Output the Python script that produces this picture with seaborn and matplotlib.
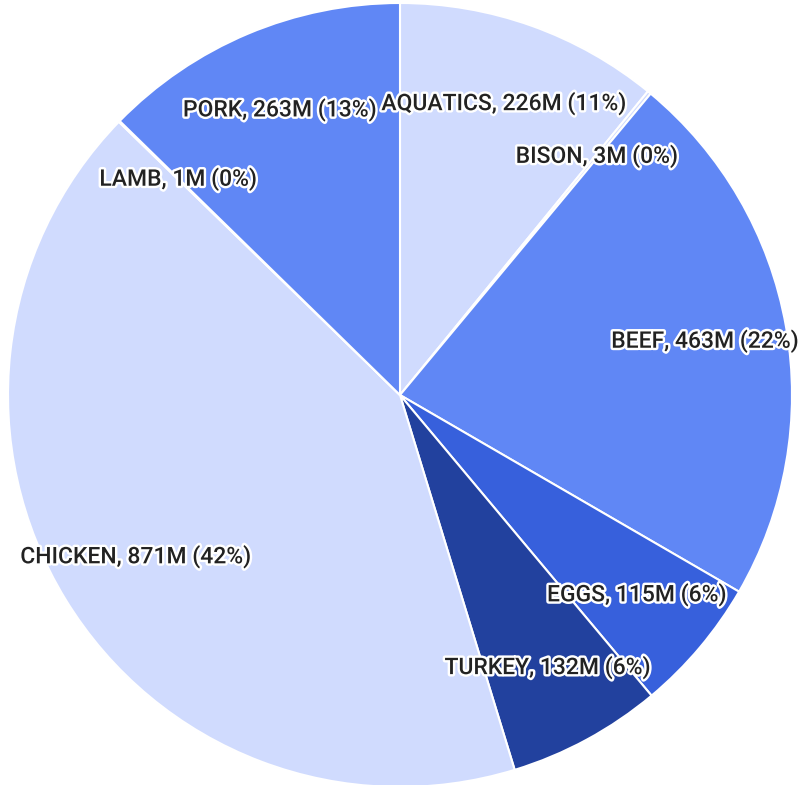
import matplotlib
matplotlib.use("Agg")
from matplotlib import pyplot as plt
import matplotlib.patheffects as pe
import seaborn as sns

sns.set_theme(style="white")
plt.rcParams['font.family'] = ['Roboto', 'DejaVu Sans']

categories = ['AQUATICS', 'BISON', 'BEEF', 'EGGS', 'TURKEY', 'CHICKEN', 'LAMB', 'PORK']
values = [226, 3, 463, 115, 132, 871, 1, 263]
colors = ['#d0dbfe', '#d0dbfe', '#6087f5', '#3760dc', '#22419e', '#d0dbfe', '#d0dbfe', '#6087f5']

total = sum(values)
labels = [f"{c}, {v}M ({round(100 * v / total)}%)" for c, v in zip(categories, values)]

fig = plt.figure(figsize=(8.04, 7.85), dpi=100)
ax = fig.add_axes([0, 0, 1, 1])
wedges, texts = ax.pie(values, labels=labels, colors=colors, startangle=90,
                       counterclock=False, labeldistance=0.79,
                       wedgeprops=dict(edgecolor='white', linewidth=1.5))
for t in texts:
    t.set_ha('center')
    t.set_va('center')
    t.set_fontsize(16.5)
    t.set_fontweight('medium')
    t.set_color('#222222')
    t.set_path_effects([pe.withStroke(linewidth=3.5, foreground='white')])

ax.set_aspect('auto')
ax.set_xlim(-400 / 392, 404 / 392)
ax.set_ylim(-390 / 392, 395 / 392)
ax.axis('off')

fig.savefig('out.png', dpi=100)
